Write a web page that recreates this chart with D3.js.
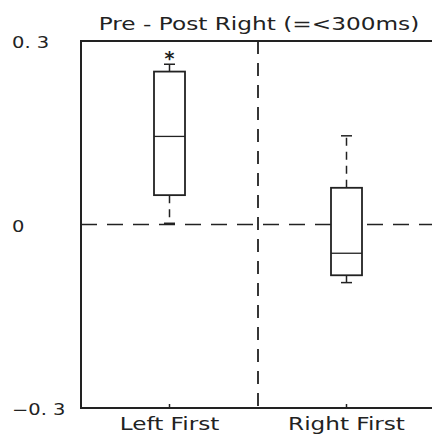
<!DOCTYPE html>
<html>
<head>
<meta charset="utf-8">
<script src="https://cdn.jsdelivr.net/npm/d3@7"></script>
<style>
  body { margin: 0; background: #fff; }
  text { font-family: "DejaVu Sans", Verdana, sans-serif; fill: #222; }
</style>
</head>
<body>
<div id="chart"></div>
<script>
// categories et valeurs des boites
var categories = ["Left First", "Right First"];
var whiskerLow = [0.002, -0.095];
var q1 = [0.048, -0.083];
var median = [0.144, -0.047];
var q3 = [0.250, 0.060];
var whiskerHigh = [0.262, 0.145];
var stars = ["*", ""];
var yTicks = [-0.3, 0, 0.3];
var yTickLabels = ["\u22120. 3", "0", "0. 3"];
var title = "Pre - Post Right (=<300ms)";

var width = 432, height = 435;
var margin = {top: 41, right: -3, bottom: 27, left: 81};
var boxW = 31, capW = 11;
var ink = "#222";

var svg = d3.select("#chart")
    .append("svg")
    .attr("width", width)
    .attr("height", height);

var x = d3.scaleBand()
    .domain(categories)
    .range([margin.left, width - margin.right]);

var y = d3.scaleLinear()
    .domain([-0.3, 0.3])
    .range([height - margin.bottom, margin.top]);

var xc = function (i) { return x(categories[i]) + x.bandwidth() / 2; };

// ligne du zero
svg.append("line")
    .attr("x1", margin.left).attr("x2", width)
    .attr("y1", y(0)).attr("y2", y(0))
    .attr("stroke", ink).attr("stroke-width", 1.5)
    .attr("stroke-dasharray", "16,10");

// separation entre les categories
svg.append("line")
    .attr("x1", x(categories[1])).attr("x2", x(categories[1]))
    .attr("y1", y(0.3)).attr("y2", y(-0.3))
    .attr("stroke", ink).attr("stroke-width", 1.8)
    .attr("stroke-dasharray", "13,9");

// cadre (gauche, haut, bas)
svg.append("path")
    .attr("d", "M" + width + "," + y(0.3) + "H" + margin.left + "V" + y(-0.3) + "H" + width)
    .attr("fill", "none").attr("stroke", ink).attr("stroke-width", 2);

// axe X
var xAxis = svg.append("g")
    .attr("transform", "translate(0," + y(-0.3) + ")")
    .call(d3.axisBottom(x).tickSizeInner(-4).tickSizeOuter(0).tickPadding(10));
xAxis.select(".domain").remove();
xAxis.selectAll("line").attr("stroke", ink).attr("stroke-width", 1.5);
xAxis.selectAll("text")
    .style("font-size", "17px")
    .attr("transform", "scale(1.36,1)");

// axe Y
var yAxis = svg.append("g")
    .attr("transform", "translate(" + margin.left + ",0)")
    .call(d3.axisLeft(y).tickValues(yTicks).tickSize(0)
        .tickFormat(function (d, i) { return yTickLabels[i]; }));
yAxis.select(".domain").remove();
yAxis.selectAll("text")
    .style("font-size", "15px")
    .attr("text-anchor", "start")
    .attr("x", (12 - margin.left) / 1.3)
    .attr("dy", "0.45em")
    .attr("transform", "scale(1.3,1)");

// boites
var boxes = svg.selectAll(".box")
    .data(categories)
    .enter()
    .append("g")
    .attr("class", "box");

// moustache haute (pointillee)
boxes.append("line")
    .attr("x1", function (d, i) { return xc(i); })
    .attr("x2", function (d, i) { return xc(i); })
    .attr("y1", function (d, i) { return y(q3[i]); })
    .attr("y2", function (d, i) { return y(whiskerHigh[i]); })
    .attr("stroke", ink).attr("stroke-width", 1.5)
    .attr("stroke-dasharray", "8,6");

// moustache basse
boxes.append("line")
    .attr("x1", function (d, i) { return xc(i); })
    .attr("x2", function (d, i) { return xc(i); })
    .attr("y1", function (d, i) { return y(q1[i]); })
    .attr("y2", function (d, i) { return y(whiskerLow[i]); })
    .attr("stroke", ink).attr("stroke-width", 1.5)
    .attr("stroke-dasharray", "8,6");

// extremites
[whiskerHigh, whiskerLow].forEach(function (arr) {
    boxes.append("line")
        .attr("x1", function (d, i) { return xc(i) - capW / 2; })
        .attr("x2", function (d, i) { return xc(i) + capW / 2; })
        .attr("y1", function (d, i) { return y(arr[i]); })
        .attr("y2", function (d, i) { return y(arr[i]); })
        .attr("stroke", ink).attr("stroke-width", 1.5);
});

boxes.append("rect")
    .attr("x", function (d, i) { return xc(i) - boxW / 2; })
    .attr("y", function (d, i) { return y(q3[i]); })
    .attr("width", boxW)
    .attr("height", function (d, i) { return y(q1[i]) - y(q3[i]); })
    .attr("fill", "#fff").attr("stroke", ink).attr("stroke-width", 1.8);

boxes.append("line")
    .attr("x1", function (d, i) { return xc(i) - boxW / 2; })
    .attr("x2", function (d, i) { return xc(i) + boxW / 2; })
    .attr("y1", function (d, i) { return y(median[i]); })
    .attr("y2", function (d, i) { return y(median[i]); })
    .attr("stroke", ink).attr("stroke-width", 1.3);

// etoile de significativite
boxes.append("text")
    .attr("x", function (d, i) { return xc(i); })
    .attr("y", function (d, i) { return y(whiskerHigh[i]) + 1; })
    .attr("text-anchor", "middle")
    .style("font-size", "19px")
    .style("font-weight", "bold")
    .text(function (d, i) { return stars[i]; });

// titre
svg.append("text")
    .attr("x", 259 / 1.29)
    .attr("y", 30)
    .attr("text-anchor", "middle")
    .attr("transform", "scale(1.29,1)")
    .style("font-size", "18px")
    .text(title);
</script>
</body>
</html>
